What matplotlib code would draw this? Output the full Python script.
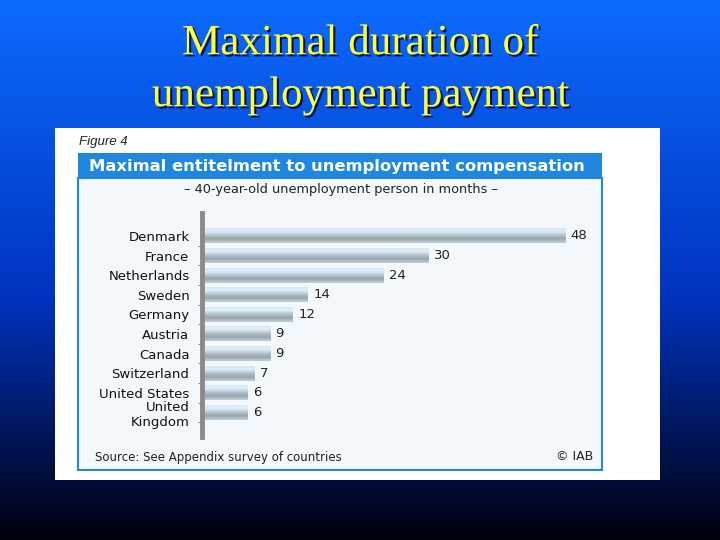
import numpy as np
import matplotlib
matplotlib.use("Agg")
import matplotlib.pyplot as plt
import matplotlib.patheffects as pe
from matplotlib.patches import Rectangle

countries = ["Denmark", "France", "Netherlands", "Sweden", "Germany", "Austria",
             "Canada", "Switzerland", "United States", "United\nKingdom"]
months = [48, 30, 24, 14, 12, 9, 9, 7, 6, 6]

W, H = 720, 540
fig = plt.figure(figsize=(7.2, 5.4), dpi=100)

# slide background: blue to almost black gradient
bg = fig.add_axes([0, 0, 1, 1])
grad = np.linspace(0, 1, 256).reshape(-1, 1)
top = np.array([0.05, 0.42, 1.0])
mid = np.array([0.0, 0.2, 0.75])
bot = np.array([0.0, 0.0, 0.05])
cols = np.where(grad[..., None] < 0.55,
                top + (mid - top) * (grad[..., None] / 0.55),
                mid + (bot - mid) * ((grad[..., None] - 0.55) / 0.45))
bg.imshow(cols, extent=[0, W, H, 0], aspect="auto")
bg.set_xlim(0, W)
bg.set_ylim(H, 0)
bg.axis("off")

# title
for i, line in enumerate(["Maximal duration of", "unemployment payment"]):
    bg.text(360, 44 + i * 52, line, ha="center", va="center", color="#ffff3c",
            fontsize=31, family="Liberation Serif",
            path_effects=[pe.withSimplePatchShadow(offset=(1.5, -1.5), shadow_rgbFace="#000020", alpha=0.8)])

# white figure panel
bg.add_patch(Rectangle((55, 128), 605, 352, facecolor="white", edgecolor="none"))
bg.text(79, 142, "Figure 4", ha="left", va="center", fontsize=9.5, style="italic",
        family="Liberation Sans", color="#222222")
bg.add_patch(Rectangle((78, 153), 524, 25, facecolor="#1f88de", edgecolor="none"))
bg.add_patch(Rectangle((78, 178), 524, 292, facecolor="#f3f8fc", edgecolor="#1f88de", lw=1.5))
bg.text(337, 166, "Maximal entitelment to unemployment compensation", ha="center", va="center",
        fontsize=11.8, fontweight="bold", family="DejaVu Sans", color="white")
bg.text(341, 190, "\u2013 40-year-old unemployment person in months \u2013", ha="center", va="center",
        fontsize=9.3, family="DejaVu Sans", color="#222222")
bg.text(95, 457, "Source: See Appendix survey of countries", ha="left", va="center",
        fontsize=8.5, family="DejaVu Sans", color="#222222")
bg.text(593, 457, "\u00a9 IAB", ha="right", va="center",
        fontsize=9, family="DejaVu Sans", color="#222222")

# bar chart
x0, x1 = 202, 600
y0, y1 = 213, 437
ax = fig.add_axes([x0 / W, 1 - y1 / H, (x1 - x0) / W, (y1 - y0) / H])
ax.patch.set_alpha(0)
ypos = np.arange(len(countries))
bars = ax.barh(ypos, months, height=0.76, color="#c4d6e0", edgecolor="none")
shade = np.array([0.97, 1.0, 0.96, 0.88, 0.80, 0.74, 0.70, 0.76, 0.84]).reshape(-1, 1)
shade_rgb = np.clip(np.stack([shade * 0.87, shade * 0.94, shade * 0.99], axis=-1), 0, 1)
for b, v in zip(bars, months):
    x, y, w, h = b.get_x(), b.get_y(), b.get_width(), b.get_height()
    im = ax.imshow(shade_rgb, extent=[x, x + w, y + h, y], aspect="auto", zorder=2)
    im.set_clip_path(b)
    ax.text(w + 0.7, y + h / 2, str(v), va="center", ha="left",
            fontsize=9.5, family="DejaVu Sans", color="#222222")
ax.set_xlim(0, 52.6)
ax.set_ylim(10.26, -1.17)
ax.set_yticks(ypos)
ax.set_yticklabels(countries, fontsize=9.5, family="DejaVu Sans", color="#111111")
for lab in ax.get_yticklabels():
    lab.set_linespacing(1.25)
ax.get_yticklabels()[-1].set_y(9.15)
ax.set_yticks(ypos + 0.5, minor=True)
ax.tick_params(axis="y", which="major", length=0, pad=9)
ax.tick_params(axis="y", which="minor", length=3, color="#777777", direction="out")
ax.set_xticks([])
for s in ["top", "right", "bottom"]:
    ax.spines[s].set_visible(False)
ax.spines["left"].set_linewidth(3.5)
ax.spines["left"].set_color("#8a8a8a")

fig.savefig("out.png", dpi=100)
